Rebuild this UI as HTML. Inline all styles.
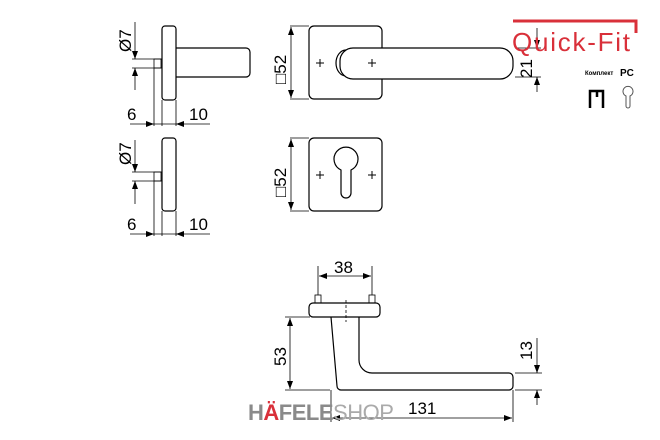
<!DOCTYPE html>
<html><head><style>body{margin:0;background:#fff}svg{display:block}</style></head><body>
<svg width="660" height="440" viewBox="0 0 660 440" xmlns="http://www.w3.org/2000/svg" font-family="Liberation Sans, sans-serif">
<defs>
<marker id="a" markerWidth="8" markerHeight="6" refX="8" refY="3" orient="auto" markerUnits="userSpaceOnUse"><path d="M0,0L8,3L0,6Z" fill="#000"/></marker>
</defs>
<g fill="none" stroke="#000" stroke-width="1.2">
<!-- side view top -->
<rect x="162" y="26" width="14" height="74" rx="3"/>
<path d="M176,48H246a4,4 0 0 1 4,4V73a4,4 0 0 1 -4,4H176"/>
<rect x="154" y="59" width="7" height="9" stroke-width="0.8"/>
<path d="M132,59H162M132,68H162" stroke-width="0.8"/>
<path d="M154,68V126M162,100V126M176,100V126" stroke-width="0.8"/>
<path d="M135,22V59" marker-end="url(#a)" stroke-width="0.8"/>
<path d="M135,90V68" marker-end="url(#a)" stroke-width="0.8"/>
<path d="M130,124H154" marker-end="url(#a)" stroke-width="0.8"/>
<path d="M210,124H176" marker-end="url(#a)" stroke-width="0.8"/>
<path d="M154,124H176" stroke-width="0.8"/>
<!-- side view bottom -->
<rect x="162" y="138" width="14" height="73" rx="3"/>
<rect x="154" y="172" width="7" height="9" stroke-width="0.8"/>
<path d="M132,172H162M132,181H162" stroke-width="0.8"/>
<path d="M154,181V236M162,211V236M176,211V236" stroke-width="0.8"/>
<path d="M135,140V172" marker-end="url(#a)" stroke-width="0.8"/>
<path d="M135,204V181" marker-end="url(#a)" stroke-width="0.8"/>
<path d="M130,234H154" marker-end="url(#a)" stroke-width="0.8"/>
<path d="M210,234H176" marker-end="url(#a)" stroke-width="0.8"/>
<path d="M154,234H176" stroke-width="0.8"/>
<!-- front top -->
<rect x="309" y="26" width="73" height="73" rx="5"/>
<path d="M346,50a10,13 0 0 0 0,26"/>
<rect x="340" y="48" width="173" height="31" rx="13" fill="#fff"/>
<path d="M316,63h8M320,59v8M368,63h8M372,59v8" stroke-width="1"/>
<path d="M290,26H309M290,99H309" stroke-width="0.8"/>
<path d="M291,62V27" marker-end="url(#a)" stroke-width="0.8"/>
<path d="M291,62V98" marker-end="url(#a)" stroke-width="0.8"/>
<path d="M515,48H541M515,77H541" stroke-width="0.8"/>
<path d="M537,28V48" marker-end="url(#a)" stroke-width="0.8"/>
<path d="M537,92V77" marker-end="url(#a)" stroke-width="0.8"/>
<!-- front bottom -->
<rect x="309" y="138" width="73" height="73" rx="5"/>
<path d="M341,170a12,12 0 1 1 10,0V193a5,5 0 0 1 -10,0Z"/>
<path d="M316,175h8M320,171v8M368,175h8M372,171v8" stroke-width="1"/>
<path d="M290,138H309M290,211H309" stroke-width="0.8"/>
<path d="M291,175V139" marker-end="url(#a)" stroke-width="0.8"/>
<path d="M291,175V210" marker-end="url(#a)" stroke-width="0.8"/>
<!-- bottom view -->
<rect x="309" y="303" width="71" height="14" rx="4"/>
<rect x="315" y="295" width="6" height="8" stroke-width="0.8"/>
<rect x="369" y="295" width="6" height="8" stroke-width="0.8"/>
<path d="M346,300V322" stroke-dasharray="3,2" stroke-width="0.8"/>
<path d="M331,317L337,386a4,4 0 0 0 4,4H509a4,4 0 0 0 4,-4V377a4,4 0 0 0 -4,-4H372a13,13 0 0 1 -13,-13V317"/>
<path d="M318,266V295M372,266V295" stroke-width="0.8"/>
<path d="M345,276H319" marker-end="url(#a)" stroke-width="0.8"/>
<path d="M345,276H371" marker-end="url(#a)" stroke-width="0.8"/>
<path d="M285,317H310M285,390H330" stroke-width="0.8"/>
<path d="M290,353V318" marker-end="url(#a)" stroke-width="0.8"/>
<path d="M290,353V389" marker-end="url(#a)" stroke-width="0.8"/>
<path d="M515,373H542M515,390H542" stroke-width="0.8"/>
<path d="M537,338V373" marker-end="url(#a)" stroke-width="0.8"/>
<path d="M537,405V390" marker-end="url(#a)" stroke-width="0.8"/>
<path d="M331,390V422M513,390V422" stroke-width="0.8"/>
<path d="M420,418H332" marker-end="url(#a)" stroke-width="0.8"/>
<path d="M420,418H512" marker-end="url(#a)" stroke-width="0.8"/>
</g>
<g font-size="17" fill="#000">
<text x="127" y="120">6</text><text x="189" y="120">10</text>
<text x="127" y="230">6</text><text x="189" y="230">10</text>
<text transform="translate(131,52) rotate(-90)">Ø7</text>
<text transform="translate(131,165) rotate(-90)">Ø7</text>
<text transform="translate(286,84) rotate(-90)">□52</text>
<text transform="translate(286,197) rotate(-90)">□52</text>
<text transform="translate(532,78) rotate(-90)">21</text>
<text x="334" y="273">38</text>
<text transform="translate(286,366) rotate(-90)">53</text>
<text transform="translate(532,360) rotate(-90)">13</text>
<text x="408" y="414">131</text>
</g>
<text x="248" y="420" font-size="22" fill="#8a8a8a" font-weight="bold" letter-spacing="-0.5">H<tspan fill="#d9303a">Ä</tspan>FELE<tspan font-weight="normal" fill="#aaa">SHOP</tspan></text>
<!-- Quick-Fit -->
<path d="M513,21H636V33" fill="none" stroke="#d9303a" stroke-width="3"/>
<text x="512" y="51" font-size="26" fill="#d9303a" textLength="118">Quick-Fit</text>
<text x="585" y="75" font-size="6" font-weight="bold">Комплект</text>
<text x="620" y="76" font-size="10" font-weight="bold">PC</text>
<path d="M590,108V91H597V97M603,108V91H596" fill="none" stroke="#000" stroke-width="2.5"/>
<path d="M626,96a5,5 0 1 1 4,0V106a2,2 0 0 1 -4,0Z" fill="none" stroke="#555" stroke-width="1"/>
</svg>
</body></html>
